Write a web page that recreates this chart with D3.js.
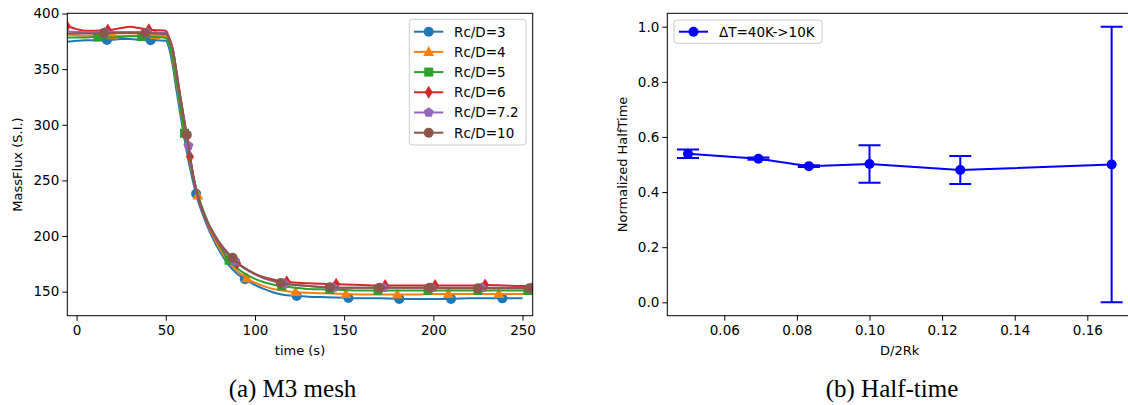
<!DOCTYPE html>
<html><head><meta charset="utf-8">
<script src="https://cdn.jsdelivr.net/npm/d3@7"></script>
<style>
body{margin:0;background:#fff}
svg text{font-family:"DejaVu Sans",sans-serif;fill:#000}
</style>
</head><body>
<svg id="c" width="1128" height="405"></svg>
<script>
// ---------------- data: (a) mass flux vs time ----------------
const time = [-6,0,5,10,15,20,25,30,35,40,45,50,52,54,56,58,60,62,64,66,68,70,73,76,80,85,90,95,100,105,110,115,120,130,140,150,160,170,180,190,200,210,220,230,240,250,257];
const flux3  = [374.5,375.5,376,376,376,376.5,377,377,376.5,376,376,375.5,368,352,331,311,292,274,258,244,232,222.5,210,199,187,174.5,166,160.5,156,152.5,149.5,147.5,146.5,145.5,145,144.5,144,144,143.5,143.5,143.5,143.5,144,144,144,144,null];
const flux4  = [381,380.5,380,380.5,381,380.5,380,380,380.5,381,380.5,379.5,372,357,337,316.5,297.5,279.5,262.5,249,236.5,225,212.5,201.5,189.5,177,168.5,162.5,158,155,152.5,151,150,149,148.5,148,147.5,147.5,147.5,147.5,148,148,148,148,148,148,148];
const flux5  = [378.5,378.5,378.5,379,378.5,378.5,379,379.5,379.5,379,379,378,372,358,338.5,318.5,297,279,264,249.5,237.5,227.5,215,204,192,179,171,165.5,161.5,158.5,156.5,155,154,152.5,152,151.5,151,151,151,151,151,151,151,151,151,151,151];
const flux6  = [389,386,384.5,384.5,385,385.5,387,388,387,385.5,385,384.5,378,368,348,326.5,307,288,267,248.5,234.5,224.5,212.5,203.5,193,183,175.5,170.5,166,163,161,159.5,158.5,157.5,157,156.5,156,155.5,155.5,155.5,155.5,155.5,155.5,156,155.5,155,155];
const flux72 = [384,383.5,383,383,383,383.5,383.5,383.5,383.5,383,383,382.5,377,367,348,327,307.5,288.5,267.5,249,235,225,213,204,193.5,183.5,175.5,170,165.5,162,159.5,157.5,156.5,155,154,153.5,153.5,153.5,153.5,153.5,153.5,153.5,153.5,153.5,153.5,153.5,153.5];
const flux10 = [382,382,382,382,382.5,382.5,382.5,382.5,382.5,382.5,382,381.5,377,367,348,327,308,289,268,250,236,226,214,205,194.5,184.5,176.5,170.5,166,162.5,160,157.5,156.5,155,154,153.5,153.5,153.5,153.5,153.5,153.5,153,153,153,153,153,153];
const seriesNames = ["Rc/D=3","Rc/D=4","Rc/D=5","Rc/D=6","Rc/D=7.2","Rc/D=10"];
// marker times
const marks3  = [17,41.5,67,94.4,123.4,152.4,180.9,209.9,238.7];
const marks4  = [20,44,68,95.4,122.8,151,179.8,208.4,236.7];
const marks5  = [12,36.5,60.5,85.5,115,142,169,197,225,253];
const marks6  = [-5.5,17.5,40.5,63.6,90,117.8,145.5,173,201,229];
const marks72 = [16,39.5,62.7,88.8,116.5,144,172,199,227,255];
const marks10 = [15.2,38.4,61.8,87.5,114.5,142,169.7,197.8,225,253.8];
const timeTicks = [0,50,100,150,200,250];
const fluxTicks = [150,200,250,300,350,400];

// ---------------- data: (b) half-time ----------------
const ratio = [0.05,0.0694,0.0833,0.1,0.125,0.1667];
const halfTime = [0.539,0.521,0.494,0.502,0.480,0.500];
const halfErr = [0.015,0.004,0.003,0.068,0.051,0.5];
const ratioTicks = [0.06,0.08,0.10,0.12,0.14,0.16];
const halfTicks = [0.0,0.2,0.4,0.6,0.8,1.0];
const halfLabel = "ΔT=40K->10K";

const colors = ["#1f77b4","#ff7f0e","#2ca02c","#d62728","#9467bd","#8c564b"];
const symbols = ["circle","triangle","square","thin","pentagon","circle"];

const svg = d3.select("#c");
const defs = svg.append("defs");

function markerPath(kind, s) {
  if (kind === "circle") return d3.symbol(d3.symbolCircle, Math.PI*5*5)();
  if (kind === "square") return "M-4.5,-4.5H4.5V4.5H-4.5Z";
  if (kind === "triangle") return "M0,-6L5.5,4L-5.5,4Z";
  if (kind === "thin") return "M0,-6.5L4,0L0,6.5L-4,0Z";
  if (kind === "pentagon") {
    const pts = d3.range(5).map(i => { const a = -Math.PI/2 + i*2*Math.PI/5; return [5.3*Math.cos(a), 5.3*Math.sin(a)]; });
    return "M" + pts.map(p => p.join(",")).join("L") + "Z";
  }
}

// ---------------- left panel ----------------
const xL = d3.scaleLinear().domain([-5.2, 255.7]).range([67.3, 532.7]);
const yL = d3.scaleLinear().domain([128.4, 400.2]).range([315.7, 13.3]);
defs.append("clipPath").attr("id","clipL").append("rect")
  .attr("x",67.3).attr("y",13.3).attr("width",465.4).attr("height",302.4);

const gL = svg.append("g");
const plotL = gL.append("g").attr("clip-path","url(#clipL)");
const allFlux = [flux3, flux4, flux5, flux6, flux72, flux10];
const allMarks = [marks3, marks4, marks5, marks6, marks72, marks10];
const line = d3.line().defined(d => d[1] !== null).x(d => xL(d[0])).y(d => yL(d[1])).curve(d3.curveMonotoneX);

function valueAt(vals, t) {
  const i = Math.max(1, Math.min(time.length-1, d3.bisectLeft(time, t)));
  const t0 = time[i-1], t1 = time[i];
  const v0 = vals[i-1], v1 = vals[i] === null ? vals[i-1] : vals[i];
  return v0 + (v1 - v0) * (t - t0) / (t1 - t0);
}

allFlux.forEach((vals, k) => {
  const pts = time.map((t, i) => [t, vals[i]]);
  plotL.append("path").attr("d", line(pts)).attr("fill","none")
    .attr("stroke", colors[k]).attr("stroke-width", 2).attr("stroke-linejoin","round");
  allMarks[k].forEach(t => {
    plotL.append("path").attr("d", markerPath(symbols[k]))
      .attr("transform", `translate(${xL(t)},${yL(valueAt(vals, t))})`)
      .attr("fill", colors[k]);
  });
});

function styleAxis(g) {
  g.select(".domain").remove();
  g.selectAll(".tick line").attr("stroke","#000").attr("stroke-width",1);
  g.selectAll(".tick text").attr("font-size","13.5px").attr("fill","#000").attr("font-family","DejaVu Sans");
}
gL.append("g").attr("transform","translate(0,315.7)")
  .call(d3.axisBottom(xL).tickValues(timeTicks).tickSize(5).tickPadding(5).tickFormat(d3.format("d")))
  .call(styleAxis);
gL.append("g").attr("transform","translate(67.3,0)")
  .call(d3.axisLeft(yL).tickValues(fluxTicks).tickSize(5).tickPadding(3).tickFormat(d3.format("d")))
  .call(styleAxis);
gL.append("rect").attr("x",67.3).attr("y",13.3).attr("width",465.4).attr("height",302.4)
  .attr("fill","none").attr("stroke","#000").attr("stroke-width",1);

gL.append("text").attr("x",300).attr("y",355).attr("text-anchor","middle").attr("font-size","13px").text("time (s)");
gL.append("text").attr("transform","translate(22,164.5) rotate(-90)").attr("text-anchor","middle").attr("font-size","13px").text("MassFlux (S.I.)");

// legend left
const lg = gL.append("g");
lg.append("rect").attr("x",409.3).attr("y",19.3).attr("width",116.7).attr("height",125.7).attr("rx",3)
  .attr("fill","#fff").attr("fill-opacity",0.8).attr("stroke","#ccc").attr("stroke-width",1);
seriesNames.forEach((name, k) => {
  const yy = 31.7 + k*20.2;
  lg.append("line").attr("x1",414).attr("x2",443.3).attr("y1",yy).attr("y2",yy).attr("stroke",colors[k]).attr("stroke-width",2);
  lg.append("path").attr("d", markerPath(symbols[k])).attr("transform",`translate(428.7,${yy})`).attr("fill",colors[k]);
  lg.append("text").attr("x",454).attr("y",yy).attr("dy","0.36em").attr("font-size","13.5px").text(name);
});

// ---------------- right panel ----------------
const xR = d3.scaleLinear().domain([0.0443, 0.1725]).range([667.3, 1132.7]);
const yR = d3.scaleLinear().domain([-0.0486, 1.0486]).range([315.7, 13.3]);
const gR = svg.append("g");
defs.append("clipPath").attr("id","clipR").append("rect")
  .attr("x",667.3).attr("y",13.3).attr("width",465.4).attr("height",302.4);
const plotR = gR.append("g").attr("clip-path","url(#clipR)");
const blue = "#0000ff";
ratio.forEach((r, i) => {
  const x = xR(r), lo = yR(halfTime[i]-halfErr[i]), hi = yR(halfTime[i]+halfErr[i]);
  plotR.append("line").attr("x1",x).attr("x2",x).attr("y1",lo).attr("y2",hi).attr("stroke",blue).attr("stroke-width",2);
  [lo, hi].forEach(y => plotR.append("line").attr("x1",x-11).attr("x2",x+11).attr("y1",y).attr("y2",y).attr("stroke",blue).attr("stroke-width",2));
});
plotR.append("path").attr("d", d3.line().x((d,i)=>xR(ratio[i])).y(d=>yR(d))(halfTime))
  .attr("fill","none").attr("stroke",blue).attr("stroke-width",2);
ratio.forEach((r, i) => plotR.append("circle").attr("cx",xR(r)).attr("cy",yR(halfTime[i])).attr("r",5).attr("fill",blue));

gR.append("g").attr("transform","translate(0,315.7)")
  .call(d3.axisBottom(xR).tickValues(ratioTicks).tickSize(5).tickPadding(5).tickFormat(d3.format(".2f")))
  .call(styleAxis);
gR.append("g").attr("transform","translate(667.3,0)")
  .call(d3.axisLeft(yR).tickValues(halfTicks).tickSize(5).tickPadding(3).tickFormat(d3.format(".1f")))
  .call(styleAxis);
gR.append("rect").attr("x",667.3).attr("y",13.3).attr("width",465.4).attr("height",302.4)
  .attr("fill","none").attr("stroke","#000").attr("stroke-width",1);
gR.append("text").attr("x",899.7).attr("y",355).attr("text-anchor","middle").attr("font-size","13px").text("D/2Rk");
gR.append("text").attr("transform","translate(627,164.5) rotate(-90)").attr("text-anchor","middle").attr("font-size","13px").text("Normalized HalfTime");

const lgR = gR.append("g");
lgR.append("rect").attr("x",674).attr("y",20).attr("width",148).attr("height",23.3).attr("rx",3)
  .attr("fill","#fff").attr("fill-opacity",0.8).attr("stroke","#ccc").attr("stroke-width",1);
lgR.append("line").attr("x1",679).attr("x2",708).attr("y1",31.7).attr("y2",31.7).attr("stroke",blue).attr("stroke-width",2);
lgR.append("circle").attr("cx",693.5).attr("cy",31.7).attr("r",5).attr("fill",blue);
lgR.append("text").attr("x",719).attr("y",31.7).attr("dy","0.36em").attr("font-size","13.5px").text(halfLabel);

// captions
svg.append("text").attr("x",292.5).attr("y",397).attr("text-anchor","middle")
  .attr("font-family","Liberation Serif").style("font-family","'Liberation Serif',serif").attr("font-size","25px").text("(a) M3 mesh");
svg.append("text").attr("x",892).attr("y",397).attr("text-anchor","middle")
  .style("font-family","'Liberation Serif',serif").attr("font-size","25px").text("(b) Half-time");
</script>
</body></html>
